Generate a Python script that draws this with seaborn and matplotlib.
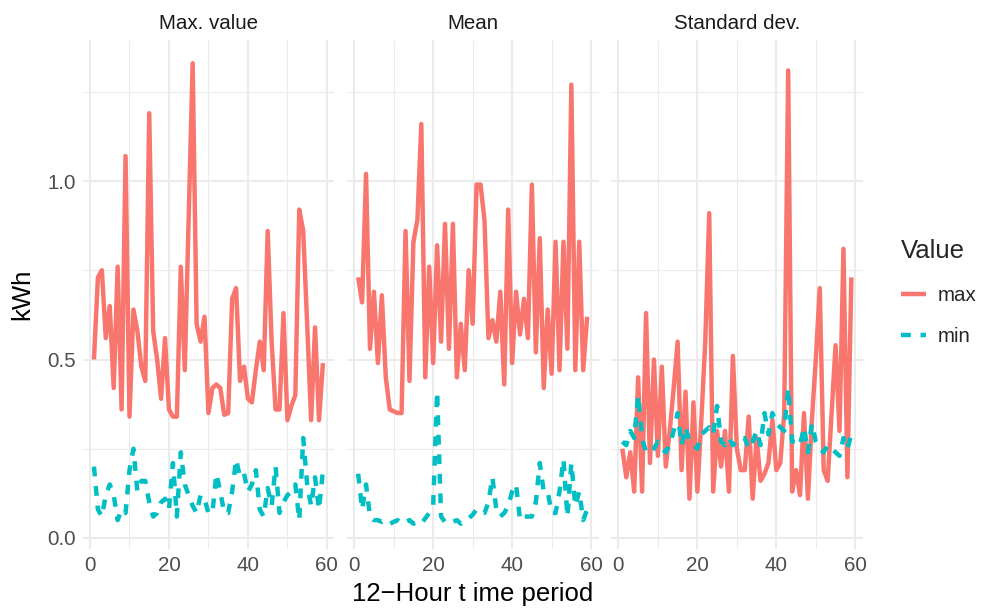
import matplotlib
matplotlib.use("Agg")
import matplotlib.pyplot as plt
from matplotlib.lines import Line2D
import numpy as np
import pandas as pd
import seaborn as sns

# ---------------- data ----------------
periods = list(range(1, 60))
stats = ["Max. value", "Mean", "Standard dev."]
series_names = ["max", "min"]

maxvalue_max = [0.50, 0.73, 0.75, 0.56, 0.65, 0.42, 0.76, 0.36, 1.07, 0.34,
                0.64, 0.58, 0.48, 0.44, 1.19, 0.58, 0.50, 0.39, 0.56, 0.36,
                0.34, 0.34, 0.76, 0.47, 0.90, 1.33, 0.60, 0.55, 0.62, 0.35,
                0.42, 0.43, 0.42, 0.345, 0.35, 0.67, 0.70, 0.44, 0.48, 0.39,
                0.38, 0.47, 0.55, 0.47, 0.86, 0.55, 0.36, 0.36, 0.63, 0.33,
                0.37, 0.40, 0.92, 0.86, 0.60, 0.33, 0.59, 0.33, 0.49]
maxvalue_min = [0.20, 0.08, 0.06, 0.12, 0.15, 0.12, 0.05, 0.08, 0.07, 0.19,
                0.25, 0.13, 0.16, 0.16, 0.10, 0.06, 0.07, 0.10, 0.11, 0.08,
                0.21, 0.06, 0.24, 0.15, 0.12, 0.09, 0.07, 0.12, 0.11, 0.07,
                0.07, 0.18, 0.13, 0.07, 0.07, 0.13, 0.22, 0.17, 0.18, 0.13,
                0.15, 0.19, 0.08, 0.06, 0.14, 0.09, 0.20, 0.07, 0.10, 0.12,
                0.13, 0.15, 0.05, 0.28, 0.15, 0.09, 0.17, 0.08, 0.19]

mean_max = [0.73, 0.66, 1.02, 0.53, 0.69, 0.49, 0.68, 0.45, 0.36, 0.355,
            0.35, 0.35, 0.86, 0.44, 0.83, 0.89, 1.16, 0.45, 0.76, 0.49,
            0.82, 0.55, 0.88, 0.53, 0.88, 0.45, 0.60, 0.47, 0.75, 0.60,
            0.99, 0.99, 0.89, 0.56, 0.61, 0.55, 0.69, 0.43, 0.92, 0.49,
            0.69, 0.57, 0.67, 0.56, 0.99, 0.52, 0.84, 0.42, 0.64, 0.46,
            0.83, 0.47, 0.83, 0.53, 1.27, 0.47, 0.83, 0.47, 0.62]
mean_min = [0.18, 0.08, 0.15, 0.06, 0.05, 0.05, 0.045, 0.05, 0.04, 0.045,
            0.05, 0.04, 0.045, 0.05, 0.04, 0.045, 0.04, 0.055, 0.07, 0.09,
            0.41, 0.06, 0.045, 0.05, 0.045, 0.05, 0.04, 0.05, 0.055, 0.065,
            0.08, 0.07, 0.07, 0.10, 0.17, 0.08, 0.06, 0.07, 0.09, 0.13,
            0.15, 0.05, 0.06, 0.06, 0.06, 0.10, 0.21, 0.13, 0.13, 0.07,
            0.07, 0.13, 0.22, 0.06, 0.21, 0.09, 0.13, 0.05, 0.08]

sd_max = [0.25, 0.17, 0.24, 0.13, 0.45, 0.13, 0.63, 0.21, 0.50, 0.23,
          0.48, 0.20, 0.30, 0.42, 0.55, 0.19, 0.41, 0.11, 0.38, 0.13,
          0.33, 0.55, 0.91, 0.13, 0.30, 0.20, 0.30, 0.13, 0.51, 0.25,
          0.19, 0.19, 0.34, 0.11, 0.28, 0.16, 0.18, 0.21, 0.33, 0.19,
          0.21, 0.35, 1.31, 0.13, 0.19, 0.12, 0.35, 0.11, 0.33, 0.50,
          0.70, 0.19, 0.16, 0.35, 0.54, 0.30, 0.81, 0.17, 0.73]
sd_min = [0.27, 0.26, 0.30, 0.28, 0.40, 0.28, 0.24, 0.24, 0.25, 0.27,
          0.25, 0.24, 0.26, 0.30, 0.35, 0.26, 0.31, 0.27, 0.26, 0.25,
          0.29, 0.30, 0.31, 0.29, 0.37, 0.27, 0.26, 0.28, 0.26, 0.27,
          0.28, 0.28, 0.25, 0.27, 0.30, 0.26, 0.35, 0.29, 0.35, 0.32,
          0.31, 0.30, 0.42, 0.27, 0.27, 0.26, 0.31, 0.24, 0.32, 0.27,
          0.25, 0.24, 0.26, 0.25, 0.24, 0.23, 0.28, 0.25, 0.29]

y_ticks = [0.0, 0.5, 1.0]
y_ticklabels = ["0.0", "0.5", "1.0"]
x_ticks = [0, 20, 40, 60]

values = {
    "Max. value": {"max": maxvalue_max, "min": maxvalue_min},
    "Mean": {"max": mean_max, "min": mean_min},
    "Standard dev.": {"max": sd_max, "min": sd_min},
}

frames = []
for st in stats:
    for nm in series_names:
        frames.append(pd.DataFrame({"stat": st, "Value": nm,
                                    "period": periods, "kWh": values[st][nm]}))
df = pd.concat(frames, ignore_index=True)

# ---------------- style ----------------
RED = "#F8766D"
CYAN = "#00BFC4"
palette = {"max": RED, "min": CYAN}
LW = 3.2
DASH = (2.2, 2.2)

sns.set_theme(style="white")
plt.rcParams["font.family"] = ["Liberation Sans", "DejaVu Sans"]
plt.rcParams["lines.dash_capstyle"] = "butt"
plt.rcParams["lines.solid_capstyle"] = "butt"
plt.rcParams["lines.solid_joinstyle"] = "round"
plt.rcParams["lines.dash_joinstyle"] = "round"

fig, axes = plt.subplots(1, 3, figsize=(10, 6.1), dpi=100, sharey=True)
fig.patch.set_facecolor("white")
fig.subplots_adjust(left=0.0825, right=0.8628, bottom=0.1005, top=0.9344,
                    wspace=0.0488)

for ax, st in zip(axes, stats):
    sub = df[df["stat"] == st]
    sns.lineplot(data=sub, x="period", y="kWh", hue="Value", style="Value",
                 palette=palette, dashes={"max": "", "min": DASH},
                 hue_order=series_names, style_order=series_names,
                 linewidth=LW, estimator=None, legend=False, ax=ax)
    ax.set_xlim(-1.9, 61.9)
    ax.set_ylim(-0.03, 1.395)
    ax.set_xticks(x_ticks)
    ax.set_xticks([10, 30, 50], minor=True)
    ax.set_yticks(y_ticks)
    ax.set_yticklabels(y_ticklabels)
    ax.set_yticks([0.25, 0.75, 1.25], minor=True)
    ax.grid(which="major", color="#EBEBEB", linewidth=1.45)
    ax.grid(which="minor", color="#EBEBEB", linewidth=0.8)
    ax.set_axisbelow(True)
    for s in ax.spines.values():
        s.set_visible(False)
    ax.tick_params(axis="both", which="both", length=0, labelsize=14.8,
                   labelcolor="#4D4D4D", pad=5)
    ax.set_title(st, fontsize=14.8, color="#1A1A1A", pad=8)
    ax.set_xlabel("")
    ax.set_ylabel("")

axes[0].set_ylabel("kWh", fontsize=18.5, color="black", labelpad=9)
axes[1].set_xlabel("12\u2212Hour t ime period", fontsize=18.5, color="black",
                   labelpad=5)

handles = [Line2D([], [], color=RED, lw=LW, label="max"),
           Line2D([], [], color=CYAN, lw=LW, ls=(0, DASH), label="min")]
leg = fig.legend(handles=handles, title="Value", loc="center left",
                 bbox_to_anchor=(0.882, 0.52), frameon=False, fontsize=14.8,
                 title_fontsize=18.5, handlelength=1.25, handletextpad=0.55,
                 labelspacing=1.1, alignment="left")

fig.savefig("out.png", dpi=100, facecolor="white")
